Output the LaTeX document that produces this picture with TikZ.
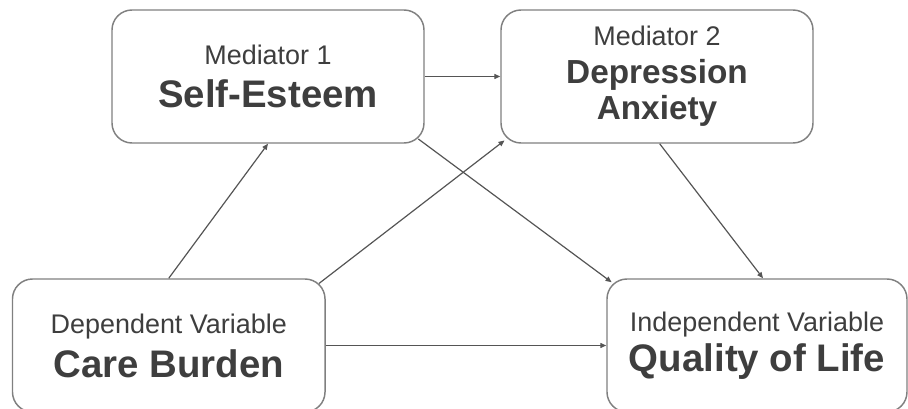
\documentclass[tikz,border=0pt]{standalone}
\usepackage{fontspec}
\setmainfont{Liberation Sans}
\usetikzlibrary{arrows.meta}
\definecolor{boxgray}{RGB}{128,128,128}
\definecolor{linegray}{RGB}{85,85,85}
\definecolor{textgray}{RGB}{62,62,62}
\newcommand{\rolename}[1]{{\fontsize{20.2}{24}\selectfont #1}}
\newcommand{\varname}[1]{{\fontsize{28.8}{34}\selectfont\bfseries #1}}
\newcommand{\varsmall}[1]{{\fontsize{25}{30}\selectfont\bfseries #1}}
\newcommand{\tightlines}{\fontsize{20.2}{26}\selectfont\lineskiplimit=-100pt\relax}
\begin{document}
\begin{tikzpicture}[x=0.75pt,y=-0.75pt,
    varbox/.style={draw=boxgray, line width=1.1pt, rounded corners=15pt, fill=white,
      text=textgray, align=center, inner sep=0pt, font=\tightlines,
      minimum height=99.75pt},
    link/.style={draw=linegray, line width=0.9pt, -{Triangle[length=4.5pt,width=3.8pt]}}]
    \useasboundingbox (0,0) rectangle (908,409);
    % Draw the mediators
    \node[varbox, minimum width=234pt] (selfest) at (268,76.5)
      {\rolename{Mediator 1}\\[6pt]\varname{Self-Esteem}};
    \node[varbox, minimum width=234pt] (deprx) at (657,76.5)
      {\rolename{Mediator 2}\\[2pt]\varsmall{Depression}\\[1.5pt]\varsmall{Anxiety}};
    % Draw the variables
    \node[varbox, minimum width=234.4pt] (burden) at (168.75,345.5)
      {\rolename{Dependent Variable}\\[7pt]\varname{Care Burden}};
    \node[varbox, minimum width=225pt] (qol) at (757,345.5)
      {\rolename{Independent Variable}\\[4pt]\varname{Quality of Life}};
    % Draw the paths
    \draw[link] (burden.north) -- (selfest.south);
    \draw[link, shorten <=-6.3pt, shorten >=-4pt] (burden.north east) -- (deprx.south west);
    \draw[link, shorten <=-6pt, shorten >=-5pt] (selfest.south east) -- (qol.north west);
    \draw[link] ([xshift=2pt]deprx.south) -- ([xshift=4.5pt]qol.north);
    \draw[link] (burden.east) -- (qol.west);
    \draw[link] (selfest.east) -- (deprx.west);
\end{tikzpicture}
\end{document}
